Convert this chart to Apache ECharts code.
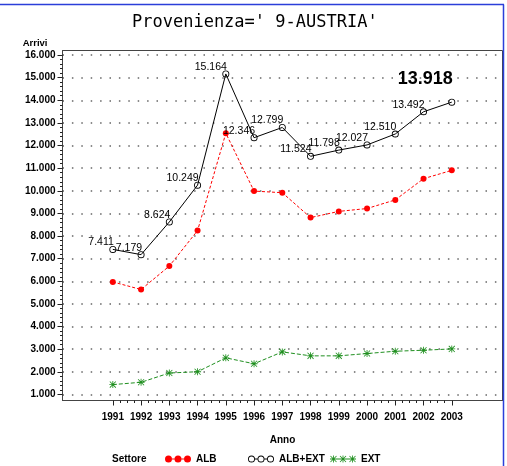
<!DOCTYPE html>
<html><head><meta charset="utf-8">
<script src="https://cdn.jsdelivr.net/npm/echarts@6/dist/echarts.min.js"></script>
<style>html,body{margin:0;padding:0;background:#fff}#c{width:507px;height:466px}</style>
</head><body><div id="c"></div>
<script>
const years = [1991,1992,1993,1994,1995,1996,1997,1998,1999,2000,2001,2002,2003];
const albExt = [7411,7179,8624,10249,15164,12346,12799,11524,11798,12027,12510,13492,13918];
const alb = [5973,5639,6675,8242,12544,9988,9916,8816,9090,9217,9598,10536,10903];
const ext = [1438,1540,1949,2007,2620,2358,2883,2708,2708,2810,2912,2956,3015];
const yTicks = [1000,2000,3000,4000,5000,6000,7000,8000,9000,10000,11000,12000,13000,14000,15000,16000];
const seriesNames = ['ALB','ALB+EXT','EXT'];

const FONT = "'Liberation Sans',Arial,sans-serif";
function fmt(v){ const k=Math.floor(v/1000), r=v%1000; return k+'.'+String(r).padStart(3,'0'); }

const xMinor = [];
years.slice(0,-1).forEach(y=>{ [0.25,0.5,0.75].forEach(f=>xMinor.push(y+f)); });
const yMinor = [];
yTicks.slice(0,-1).forEach(t=>{ [200,400,600,800].forEach(d=>yMinor.push(t+d)); });

function circ(cx,cy,r,cw){ const s=cw?1:0; return `M${cx-r},${cy} a${r},${r} 0 1,${s} ${2*r},0 a${r},${r} 0 1,${s} ${-2*r},0 Z `; }
function ring(cx,cy){ return circ(cx,cy,3.5,true)+circ(cx,cy,2.6,false); }
function star(ox,oy,s){
  const k=s/10, P=(pts)=>'M'+pts.map(p=>(ox+p[0]*k)+','+(oy+p[1]*k)).join(' L')+' Z ';
  return P([[0,4.4],[10,4.4],[10,5.6],[0,5.6]])+P([[4.4,0],[5.6,0],[5.6,10],[4.4,10]])+
         P([[1.1,0.3],[9.7,8.9],[8.9,9.7],[0.3,1.1]])+P([[8.9,0.3],[9.7,1.1],[1.1,9.7],[0.3,8.9]]);
}
const ringSym = 'path://'+ring(3.5,3.5);
const starSym = 'path://'+star(0,0,10);
const bars = 'M7,3.1 h2.5 v0.8 h-2.5 Z M16.5,3.1 h2.5 v0.8 h-2.5 Z';
const iconAlb = 'path://'+circ(3.5,3.5,3.5,true)+circ(13,3.5,3.5,true)+circ(22.5,3.5,3.5,true)+bars;
const iconTot = 'path://'+ring(3.5,3.5)+ring(13,3.5)+ring(22.5,3.5)+bars;
const iconExt = 'path://'+star(0,0,7)+star(9.5,0,7)+star(19,0,7)+bars;

const X_MIN=1989.218, X_MAX=2004.796, Y_MIN=735, Y_MAX=16199;
const chart = echarts.init(document.getElementById('c'));
const lblBase = {show:true, position:'top', align:'right', distance:0, offset:[1,2],
  fontFamily:FONT, fontSize:10.5, fontWeight:'normal', color:'#000', formatter:p=>fmt(p.value[1])};
const totData = years.map((y,i)=>{
  const d={value:[y,albExt[i]]};
  if(i===years.length-1) d.label={fontSize:18, fontWeight:'bold', offset:[1,-11]};
  return d;
});
const txt = {fontFamily:FONT, fontSize:10, fontWeight:'bold', color:'#000'};
const legendCommon = {top:449, itemWidth:26, itemHeight:7, itemGap:0, selectedMode:false,
  textStyle:Object.assign({padding:[0,0,0,0]}, txt)};
chart.setOption({
  animation:false,
  backgroundColor:'#fff',
  title:[
    {text:"Provenienza=' 9-AUSTRIA'", left:127, top:9,
     textStyle:{fontFamily:"'DejaVu Sans Mono',monospace", fontSize:17, fontWeight:'normal', color:'#000'}},
    {text:'Settore', left:107, top:449, textStyle:txt}
  ],
  legend:[
    Object.assign({}, legendCommon, {left:160, data:[{name:'ALB', icon:iconAlb}]}),
    Object.assign({}, legendCommon, {left:243, data:[{name:'ALB+EXT', icon:iconTot}]}),
    Object.assign({}, legendCommon, {left:325, data:[{name:'EXT', icon:iconExt}]})
  ],
  grid:{left:62.5, right:4.5, top:50.5, bottom:65.5, show:true, borderColor:'#444', borderWidth:1, containLabel:false},
  xAxis:[
    {type:'value', min:X_MIN, max:X_MAX, name:'Anno', nameLocation:'middle', nameGap:35,
     nameTextStyle:txt,
     axisLine:{lineStyle:{color:'#444', width:1}},
     axisTick:{show:true, customValues:years, length:5, lineStyle:{color:'#222'}},
     axisLabel:Object.assign({customValues:years, margin:12, formatter:v=>String(v)}, txt),
     splitLine:{show:false}},
    {type:'value', min:X_MIN, max:X_MAX, position:'bottom', axisLine:{show:false},
     axisTick:{show:true, customValues:xMinor, length:2.5, lineStyle:{color:'#222'}},
     axisLabel:{show:false}, splitLine:{show:false}}
  ],
  yAxis:[
    {type:'value', min:Y_MIN, max:Y_MAX, name:'Arrivi', nameLocation:'end', nameGap:2,
     nameTextStyle:Object.assign({}, txt, {fontSize:9.5, align:'right', verticalAlign:'bottom', padding:[0,15,0,0]}),
     axisLine:{show:true, lineStyle:{color:'#444', width:1}},
     axisTick:{show:true, customValues:yTicks, length:5, lineStyle:{color:'#222'}},
     axisLabel:Object.assign({customValues:yTicks, margin:7, formatter:v=>fmt(v)}, txt),
     splitLine:{show:true, lineStyle:{color:'#666', width:1.5, type:[1.5,7.9]}}},
    {type:'value', min:Y_MIN, max:Y_MAX, position:'left', axisLine:{show:false},
     axisTick:{show:true, customValues:yMinor, length:2.5, lineStyle:{color:'#222'}},
     axisLabel:{show:false}, splitLine:{show:false}}
  ],
  series:[
    {name:'ALB', type:'line', data:years.map((y,i)=>[y,alb[i]]), symbol:'circle', symbolSize:6,
     itemStyle:{color:'#ff0000'}, lineStyle:{color:'#ff0000', width:1, type:[3,2]}, z:3},
    {name:'ALB+EXT', type:'line', data:totData, symbol:ringSym, symbolSize:7,
     itemStyle:{color:'#000'}, lineStyle:{color:'#000', width:1}, label:lblBase, z:4},
    {name:'EXT', type:'line', data:years.map((y,i)=>[y,ext[i]]), symbol:starSym, symbolSize:7,
     itemStyle:{color:'#1f8f1f'}, lineStyle:{color:'#1f8f1f', width:1, type:[4,2]}, z:3}
  ],
  graphic:[
    {type:'line', shape:{x1:0,y1:4.5,x2:504,y2:4.5}, style:{stroke:'#2b3fd9', lineWidth:1.5}},
    {type:'line', shape:{x1:503.5,y1:4.5,x2:503.5,y2:466}, style:{stroke:'#2b3fd9', lineWidth:1.5}}
  ]
});
</script></body></html>
